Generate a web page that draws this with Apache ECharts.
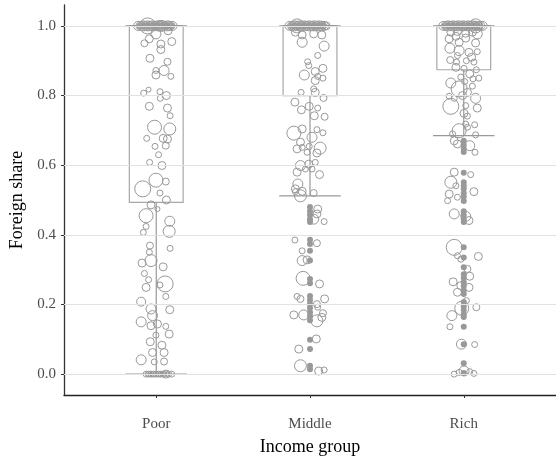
<!DOCTYPE html>
<html>
<head>
<meta charset="utf-8">
<script src="https://cdn.jsdelivr.net/npm/echarts@6/dist/echarts.min.js"></script>
<style>
  html, body { margin: 0; padding: 0; background: #fff; }
  #chart { width: 556px; height: 461px; }
</style>
</head>
<body>
<div id="chart"></div>
<script>
// Income groups on the x axis
const categories = ['Poor', 'Middle', 'Rich'];
const yTicks = [0, 0.2, 0.4, 0.6, 0.8, 1.0];

// Box statistics per group: [lower whisker, Q1, median, Q3, upper whisker]
const boxStats = [
  [0.000, 0.493, 1.0, 1.0, 1.0],
  [0.512, 0.800, 1.0, 1.0, 1.0],
  [0.685, 0.874, 1.0, 1.0, 1.0]
];

// Countries with a foreign share of exactly 1: [jitter offset, weight]
const poorFull = [
  [-0.118, 4.5], [-0.110, 1.5], [-0.102, 4.5], [-0.094, 1.5], [-0.086, 5], [-0.078, 1.5], [-0.070, 4.5],
  [-0.062, 1.5], [-0.054, 5], [-0.046, 1.5], [-0.038, 4.5], [-0.030, 1.5], [-0.022, 5], [-0.014, 1.5],
  [-0.006, 4.5], [0.002, 1.5], [0.010, 5], [0.018, 1.5], [0.026, 4.5], [0.034, 1.5], [0.042, 5],
  [0.050, 1.5], [0.058, 4.5], [0.066, 1.5], [0.074, 5], [0.082, 1.5], [0.090, 4.5], [0.098, 1.5],
  [0.106, 4.5], [0.114, 1.5],
  [-0.106, 3], [-0.090, 3], [-0.074, 3], [-0.058, 3], [-0.042, 3], [-0.026, 3], [-0.010, 3],
  [0.006, 3], [0.022, 3], [0.038, 3], [0.054, 3], [0.070, 3], [0.086, 3], [0.102, 3],
  [-0.056, 8], [0.030, 5.5]
];
const middleFull = [
  [-0.133, 4.5], [-0.125, 1.5], [-0.117, 4.5], [-0.109, 1.5], [-0.101, 5], [-0.093, 1.5], [-0.085, 4.5],
  [-0.077, 1.5], [-0.069, 5], [-0.061, 1.5], [-0.053, 4.5], [-0.045, 1.5], [-0.037, 5], [-0.029, 1.5],
  [-0.021, 4.5], [-0.013, 1.5], [-0.005, 5], [0.003, 1.5], [0.011, 4.5], [0.019, 1.5], [0.027, 5],
  [0.035, 1.5], [0.043, 4.5], [0.051, 1.5], [0.059, 5], [0.067, 1.5], [0.075, 4.5], [0.083, 1.5],
  [0.091, 4.5], [0.099, 1.5], [0.105, 4],
  [-0.121, 3], [-0.105, 3], [-0.089, 3], [-0.073, 3], [-0.057, 3], [-0.041, 3], [-0.025, 3],
  [-0.009, 3], [0.007, 3], [0.023, 3], [0.039, 3], [0.055, 3], [0.071, 3], [0.087, 3],
  [-0.084, 7]
];
const richFull = [
  [-0.133, 4.5], [-0.125, 1.5], [-0.117, 4.5], [-0.109, 1.5], [-0.101, 5], [-0.093, 1.5], [-0.085, 4.5],
  [-0.077, 1.5], [-0.069, 5], [-0.061, 1.5], [-0.053, 4.5], [-0.045, 1.5], [-0.037, 5], [-0.029, 1.5],
  [-0.021, 4.5], [-0.013, 1.5], [-0.005, 5], [0.003, 1.5], [0.011, 4.5], [0.019, 1.5], [0.027, 5],
  [0.035, 1.5], [0.043, 4.5], [0.051, 1.5], [0.059, 5], [0.067, 1.5], [0.075, 4.5], [0.083, 1.5],
  [0.091, 4.5], [0.099, 1.5], [0.107, 4.5], [0.115, 1.5], [0.123, 4.5],
  [-0.121, 3], [-0.105, 3], [-0.089, 3], [-0.073, 3], [-0.057, 3], [-0.041, 3], [-0.025, 3],
  [-0.009, 3], [0.007, 3], [0.023, 3], [0.039, 3], [0.055, 3], [0.071, 3], [0.087, 3], [0.103, 3],
  [0.077, 7]
];

// Other countries: [jitter offset, foreign share, weight]
const poorPoints = [
  [-0.002, 0.977, 5], [-0.045, 0.963, 4], [-0.077, 0.950, 3.5], [0.030, 0.948, 4], [0.101, 0.955, 4],
  [0.030, 0.932, 4], [0.077, 0.986, 4], [-0.041, 0.907, 4], [0.073, 0.897, 3.5], [0.051, 0.872, 5],
  [-0.002, 0.859, 4], [0.095, 0.855, 3], [-0.002, 0.872, 3], [-0.082, 0.807, 3], [-0.050, 0.817, 2.5],
  [0.024, 0.811, 3], [0.066, 0.800, 4], [0.026, 0.792, 3], [-0.045, 0.769, 4], [0.073, 0.764, 4],
  [0.090, 0.742, 3], [-0.011, 0.709, 7], [0.088, 0.704, 6], [-0.062, 0.677, 3], [0.045, 0.677, 4],
  [0.073, 0.675, 4], [0.062, 0.656, 3.5], [-0.008, 0.654, 3], [0.015, 0.630, 3], [-0.043, 0.608, 3],
  [0.037, 0.599, 4], [-0.002, 0.557, 7], [-0.088, 0.532, 8], [0.062, 0.553, 3.5], [0.024, 0.520, 3],
  [0.066, 0.500, 4], [-0.034, 0.486, 4], [0.008, 0.474, 2.5], [-0.066, 0.455, 7], [0.088, 0.439, 5],
  [-0.066, 0.424, 3], [-0.084, 0.407, 3], [0.084, 0.410, 6], [0.090, 0.361, 3], [-0.041, 0.369, 3.5],
  [-0.045, 0.350, 3], [-0.092, 0.319, 4], [-0.034, 0.326, 6], [0.045, 0.308, 4], [-0.077, 0.289, 3],
  [-0.050, 0.271, 3], [0.058, 0.259, 8], [0.024, 0.256, 3], [-0.066, 0.249, 4], [0.062, 0.223, 3],
  [-0.098, 0.208, 4.5], [0.088, 0.185, 4], [-0.034, 0.187, 5], [-0.024, 0.168, 5], [-0.098, 0.150, 5],
  [-0.034, 0.139, 4], [0.008, 0.144, 4], [0.062, 0.137, 3], [0.084, 0.115, 4], [-0.002, 0.112, 3],
  [-0.039, 0.093, 4], [0.037, 0.083, 4], [-0.024, 0.062, 4], [0.051, 0.062, 4], [-0.098, 0.041, 5],
  [-0.013, 0.035, 3], [0.051, 0.036, 3.5],
  [-0.066, 0.0, 3], [-0.058, 0.0, 2], [-0.050, 0.0, 3], [-0.042, 0.0, 2], [-0.034, 0.0, 3],
  [-0.026, 0.0, 2], [-0.018, 0.0, 3], [-0.010, 0.0, 2], [-0.002, 0.0, 3], [0.006, 0.0, 2],
  [0.015, 0.0, 3], [0.023, 0.0, 2], [0.031, 0.0, 3], [0.039, 0.0, 2], [0.047, 0.0, 3],
  [0.055, 0.0, 2], [0.063, 0.0, 4], [0.072, 0.0, 2], [0.080, 0.0, 3], [0.100, 0.0, 3]
];

const middlePoints = [
  [-0.095, 0.982, 4], [-0.051, 0.974, 4], [0.024, 0.977, 4], [0.077, 0.974, 4], [-0.051, 0.953, 5],
  [0.092, 0.942, 5], [0.050, 0.915, 3], [-0.015, 0.897, 3], [-0.008, 0.886, 3], [0.084, 0.878, 4],
  [-0.037, 0.859, 5], [0.034, 0.869, 4], [0.050, 0.855, 3], [0.084, 0.850, 3], [0.034, 0.843, 4],
  [0.024, 0.819, 3], [-0.058, 0.809, 3], [0.034, 0.809, 4], [-0.098, 0.781, 4], [0.088, 0.793, 3.5],
  [-0.056, 0.759, 4], [-0.005, 0.769, 4], [0.050, 0.764, 3], [0.028, 0.742, 4], [0.095, 0.739, 3.5],
  [-0.105, 0.692, 7], [-0.051, 0.704, 4], [0.013, 0.680, 5], [0.045, 0.702, 3], [0.084, 0.693, 3],
  [-0.062, 0.666, 4], [-0.084, 0.647, 4], [-0.051, 0.651, 3], [-0.005, 0.654, 3], [0.066, 0.649, 6],
  [-0.019, 0.637, 3], [0.045, 0.635, 4], [-0.062, 0.599, 5], [-0.008, 0.603, 4], [0.034, 0.608, 3],
  [-0.084, 0.580, 4], [-0.030, 0.589, 3], [0.013, 0.589, 3], [0.062, 0.573, 4], [-0.079, 0.546, 5],
  [-0.095, 0.532, 4], [-0.051, 0.525, 4], [0.024, 0.520, 3.5], [-0.062, 0.512, 6], [-0.095, 0.524, 3],
  [0.050, 0.474, 4], [0.045, 0.460, 4], [0.024, 0.445, 5], [0.092, 0.438, 3], [-0.098, 0.385, 3],
  [0.045, 0.376, 3.5], [-0.051, 0.354, 3], [-0.051, 0.326, 5], [-0.019, 0.328, 4], [-0.045, 0.275, 7],
  [0.062, 0.259, 4], [-0.084, 0.223, 3], [-0.062, 0.216, 3.5], [0.095, 0.216, 4], [0.045, 0.201, 3.5],
  [0.050, 0.192, 3], [-0.105, 0.170, 4], [-0.041, 0.170, 5], [0.084, 0.175, 3.5], [0.045, 0.153, 6],
  [0.077, 0.163, 4], [0.041, 0.101, 4], [-0.073, 0.072, 4], [-0.062, 0.024, 6], [0.056, 0.009, 4],
  [0.092, 0.012, 3]
];

const richPoints = [
  [-0.084, 0.982, 4], [-0.041, 0.984, 4], [0.013, 0.979, 4], [0.056, 0.982, 4], [0.088, 0.977, 5],
  [-0.095, 0.963, 4], [-0.051, 0.970, 4], [0.013, 0.965, 4], [0.077, 0.951, 4], [-0.030, 0.953, 4],
  [-0.090, 0.936, 5], [-0.030, 0.929, 5], [0.034, 0.924, 4], [0.088, 0.926, 3], [-0.041, 0.915, 3],
  [0.051, 0.910, 4], [-0.088, 0.902, 3.5], [-0.047, 0.896, 3], [0.017, 0.900, 3], [0.066, 0.896, 3],
  [-0.051, 0.881, 4], [0.002, 0.878, 3], [0.082, 0.874, 3], [0.039, 0.862, 4], [-0.019, 0.853, 3],
  [0.060, 0.848, 3], [0.098, 0.850, 3], [-0.084, 0.836, 5], [0.006, 0.840, 3], [0.056, 0.827, 3],
  [-0.030, 0.819, 8], [0.024, 0.809, 4], [-0.095, 0.798, 3], [-0.062, 0.792, 3], [-0.008, 0.800, 4],
  [0.077, 0.792, 5], [-0.084, 0.769, 8], [0.013, 0.771, 3], [0.088, 0.764, 4], [0.002, 0.749, 4],
  [0.024, 0.741, 3], [0.071, 0.716, 3], [0.013, 0.718, 3], [-0.030, 0.699, 7], [0.024, 0.709, 3],
  [-0.073, 0.690, 3], [0.077, 0.687, 3],
  [-0.062, 0.670, 4], [-0.041, 0.661, 4], [0.039, 0.656, 5], [0.073, 0.637, 3], [-0.062, 0.580, 4],
  [0.045, 0.573, 3], [-0.084, 0.551, 6], [-0.051, 0.541, 3], [0.066, 0.524, 4], [-0.095, 0.517, 4],
  [-0.041, 0.508, 3], [-0.105, 0.498, 3], [-0.062, 0.460, 5], [0.013, 0.453, 5], [0.034, 0.441, 4],
  [-0.062, 0.364, 8], [-0.041, 0.340, 3], [-0.019, 0.330, 3], [0.095, 0.338, 4], [0.024, 0.302, 3.5],
  [0.039, 0.281, 4], [-0.069, 0.265, 4], [-0.019, 0.254, 4], [0.034, 0.249, 4], [-0.041, 0.235, 4],
  [0.017, 0.211, 3], [-0.013, 0.189, 7], [0.082, 0.192, 3.5], [-0.077, 0.168, 5], [-0.090, 0.136, 3],
  [-0.015, 0.086, 5], [0.071, 0.085, 3], [0.002, 0.009, 5], [-0.062, 0.0, 3], [0.066, 0.002, 3],
  [-0.030, 0.005, 3], [0.039, 0.007, 3]
];

// Observations without jitter, drawn as solid dots on the group centre
const middleDots = [
  0.480, 0.468, 0.457, 0.445, 0.437, 0.386, 0.374, 0.354, 0.326, 0.273, 0.261,
  0.224, 0.213, 0.201, 0.190, 0.178, 0.167, 0.155, 0.099, 0.072, 0.024, 0.014
];
const richDots = [
  0.670, 0.658, 0.647, 0.638, 0.578, 0.551, 0.541, 0.532, 0.520, 0.509, 0.497,
  0.468, 0.457, 0.445, 0.437, 0.364, 0.335, 0.307, 0.287, 0.276, 0.264, 0.253,
  0.241, 0.230, 0.207, 0.195, 0.184, 0.172, 0.164, 0.136, 0.086, 0.031, 0.003
];

const serif = '"Liberation Serif", "DejaVu Serif", serif';
const grey = '#999999';
const BOX_WIDTH = 0.35;
const CAP_WIDTH = 0.40;

const jittered = [];
[poorFull, middleFull, richFull].forEach((pts, gi) => {
  pts.forEach(p => jittered.push([gi + 1 + p[0], 1.0, p[1]]));
});
[poorPoints, middlePoints, richPoints].forEach((pts, gi) => {
  pts.forEach(p => jittered.push([gi + 1 + p[0], p[1], p[2]]));
});
const solidDots = [];
middleDots.forEach(v => solidDots.push([2, v]));
richDots.forEach(v => solidDots.push([3, v]));

const boxData = boxStats.map((s, i) => [i + 1].concat(s));

function renderBox(params, api) {
  const x = api.value(0);
  const lo = api.value(1), q1 = api.value(2), med = api.value(3), q3 = api.value(4), hi = api.value(5);
  const pLoL = api.coord([x - CAP_WIDTH / 2, lo]);
  const pLoR = api.coord([x + CAP_WIDTH / 2, lo]);
  const pHiL = api.coord([x - CAP_WIDTH / 2, hi]);
  const pHiR = api.coord([x + CAP_WIDTH / 2, hi]);
  const bL = api.coord([x - BOX_WIDTH / 2, q3]);
  const bR = api.coord([x + BOX_WIDTH / 2, q1]);
  const mL = api.coord([x - BOX_WIDTH / 2, med]);
  const mR = api.coord([x + BOX_WIDTH / 2, med]);
  const c1 = api.coord([x, q1]);
  const c0 = api.coord([x, lo]);
  const cq3 = api.coord([x, q3]);
  const cHi = api.coord([x, hi]);
  const whisker = { stroke: '#999', lineWidth: 1.2 };
  return {
    type: 'group',
    children: [
      { type: 'line', shape: { x1: c0[0], y1: c0[1], x2: c1[0], y2: c1[1] }, style: whisker },
      { type: 'line', shape: { x1: cq3[0], y1: cq3[1], x2: cHi[0], y2: cHi[1] }, style: whisker },
      { type: 'line', shape: { x1: pLoL[0], y1: pLoL[1], x2: pLoR[0], y2: pLoR[1] }, style: whisker },
      { type: 'line', shape: { x1: pHiL[0], y1: pHiL[1], x2: pHiR[0], y2: pHiR[1] }, style: whisker },
      { type: 'rect', shape: { x: bL[0], y: bL[1], width: bR[0] - bL[0], height: bR[1] - bL[1] },
        style: { stroke: '#a8a8a8', lineWidth: 1.2, fill: null } },
      { type: 'line', shape: { x1: mL[0], y1: mL[1], x2: mR[0], y2: mR[1] }, style: { stroke: '#999', lineWidth: 1.6 } }
    ]
  };
}

const chart = echarts.init(document.getElementById('chart'), null, { renderer: 'canvas' });
chart.setOption({
  animation: false,
  backgroundColor: '#fff',
  grid: { left: 64, top: 5, width: 498, height: 391, containLabel: false },
  xAxis: {
    type: 'value', min: 0.4, max: 3.6,
    name: 'Income group', nameLocation: 'middle', nameGap: 43,
    nameTextStyle: { fontFamily: serif, fontSize: 18, color: '#000' },
    axisLine: { show: true, onZero: false, lineStyle: { color: '#222', width: 1.4 } },
    axisTick: { show: true, length: 3, customValues: [1, 2, 3], lineStyle: { color: '#333' } },
    axisLabel: {
      customValues: [1, 2, 3], margin: 22,
      fontFamily: serif, fontSize: 15, color: '#4d4d4d',
      formatter: v => categories[Math.round(v) - 1]
    },
    splitLine: { show: false }
  },
  yAxis: {
    type: 'value', min: -0.06, max: 1.06,
    name: 'Foreign share', nameLocation: 'middle', nameGap: 36,
    nameTextStyle: { fontFamily: serif, fontSize: 18, color: '#000' },
    axisLine: { show: true, onZero: false, lineStyle: { color: '#333', width: 1.3 } },
    axisTick: { show: true, length: 3, customValues: yTicks, lineStyle: { color: '#333' } },
    axisLabel: {
      customValues: yTicks, margin: 8,
      fontFamily: serif, fontSize: 15, color: '#4d4d4d',
      formatter: v => v.toFixed(1)
    },
    splitLine: { show: false }
  },
  series: [
    {
      type: 'custom',
      z: 1,
      renderItem: renderBox,
      data: boxData,
      silent: true,
      markLine: {
        silent: true,
        symbol: 'none',
        label: { show: false },
        lineStyle: { color: '#e2e2e2', width: 1, type: 'solid' },
        data: yTicks.map(v => ({ yAxis: v }))
      }
    },
    {
      type: 'scatter',
      z: 3,
      data: solidDots,
      symbol: 'circle',
      symbolSize: 6,
      itemStyle: { color: grey, opacity: 1 },
      silent: true
    },
    {
      type: 'scatter',
      z: 4,
      data: jittered,
      symbol: 'circle',
      symbolSize: d => d[2] * 2,
      itemStyle: { color: 'rgba(0,0,0,0)', borderColor: grey, borderWidth: 1, opacity: 1 },
      silent: true
    }
  ]
});
</script>
</body>
</html>
